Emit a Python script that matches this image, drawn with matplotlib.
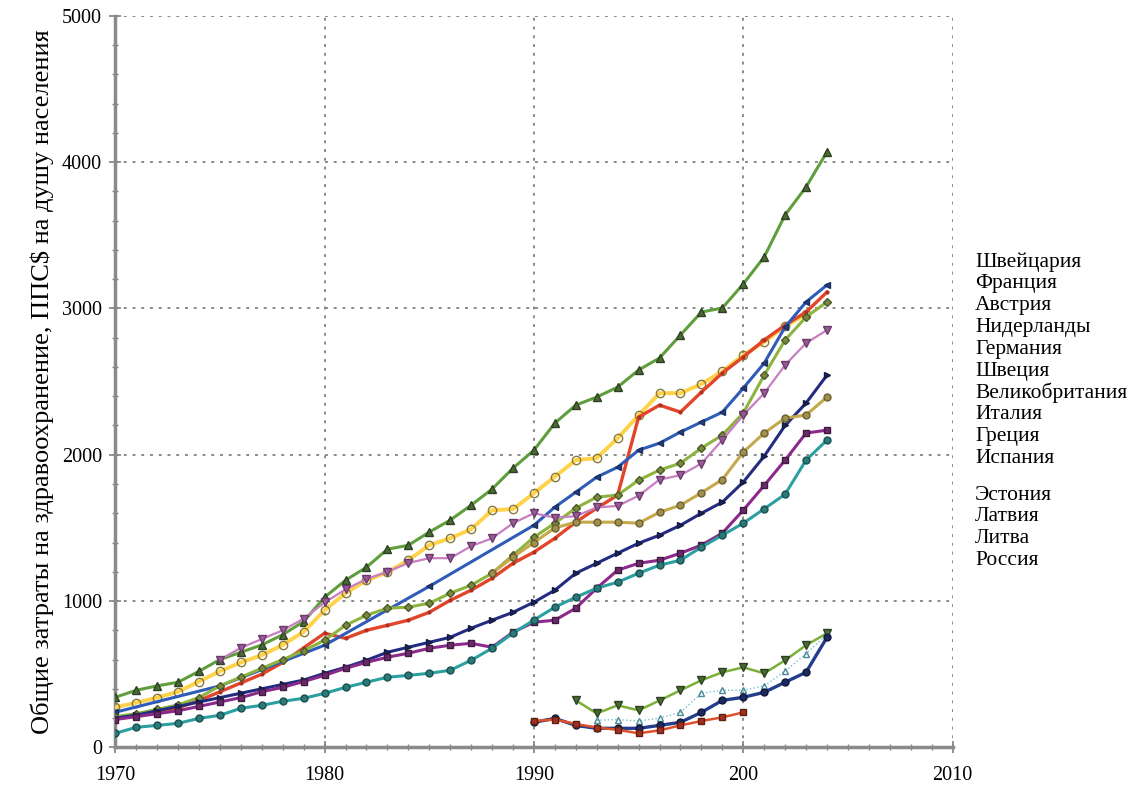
import matplotlib
matplotlib.use('Agg')
import numpy as np
import matplotlib.pyplot as plt
from matplotlib.ticker import MultipleLocator

plt.rcParams['font.family'] = ['Liberation Serif', 'DejaVu Serif']

# ---- data (PPP$ per capita) ----
yrs_w = list(range(1970, 2005))

swiss = [342, 390, 420, 445, 520, 600, 650, 700, 770, 860, 1026, 1142, 1231, 1354, 1381,
         1471, 1553, 1655, 1765, 1908, 2031, 2216, 2339, 2394, 2462, 2579, 2661, 2818, 2975,
         3003, 3167, 3352, 3639, 3830, 4070]
yellow_yrs = list(range(1970, 2004))
yellow = [274, 305, 340, 380, 450, 520, 580, 630, 700, 790, 937, 1053, 1142, 1197, 1279,
          1382, 1429, 1491, 1621, 1628, 1737, 1850, 1963, 1977, 2113, 2270, 2421, 2421, 2483,
          2570, 2680, 2770, 2880, 2960]
red = [198, 215, 240, 270, 320, 380, 440, 500, 580, 680, 780, 745, 800, 834, 869,
       923, 1005, 1074, 1156, 1258, 1334, 1429, 1539, 1635, 1724, 2257, 2339, 2291, 2428,
       2558, 2668, 2784, 2886, 2975, 3112]
blue_yrs = [1970, 1975, 1980, 1985] + list(range(1990, 2005))
blue = [240, 420, 698, 1100, 1518, 1642, 1744, 1847, 1915, 2031, 2079, 2155, 2223, 2291,
        2455, 2626, 2873, 3044, 3160]
greend = [210, 230, 260, 290, 340, 420, 480, 540, 600, 660, 732, 834, 903, 951, 958,
          985, 1053, 1108, 1190, 1313, 1436, 1532, 1635, 1710, 1724, 1826, 1895, 1942, 2045,
          2134, 2285, 2544, 2784, 2941, 3044]
pink_yrs = list(range(1975, 2005))
pink = [600, 680, 740, 800, 880, 990, 1080, 1150, 1200, 1260, 1293, 1293, 1375, 1429, 1532,
        1600, 1570, 1580, 1640, 1650, 1720, 1830, 1860, 1940, 2100, 2270, 2420, 2613, 2763, 2852]
navy = [200, 220, 250, 280, 310, 340, 370, 400, 430, 460, 506, 547, 595, 650, 684,
        718, 752, 814, 869, 923, 992, 1074, 1190, 1258, 1327, 1395, 1450, 1518, 1600,
        1676, 1813, 1990, 2200, 2353, 2544]
khaki_yrs = list(range(1988, 2005))
khaki = [1190, 1300, 1400, 1500, 1539, 1539, 1539, 1532, 1607, 1655, 1740, 1830, 2018,
         2148, 2250, 2271, 2394]
purple = [190, 210, 230, 250, 280, 310, 340, 380, 410, 450, 492, 540, 581, 616, 643,
          677, 698, 711, 684, 787, 855, 869, 951, 1088, 1211, 1258, 1279, 1327, 1382,
          1464, 1621, 1790, 1963, 2148, 2168]
teal = [96, 137, 150, 164, 198, 219, 267, 287, 315, 335, 369, 410, 445, 479, 492,
        506, 527, 595, 677, 780, 870, 958, 1026, 1088, 1129, 1190, 1245, 1279, 1368,
        1450, 1532, 1630, 1730, 1963, 2100]

est_yrs = list(range(1992, 2005))
est = [321, 232, 287, 253, 320, 390, 458, 513, 547, 506, 595, 698, 780]
lat_yrs = list(range(1993, 2005))
lat = [185, 190, 180, 200, 239, 369, 390, 390, 420, 520, 640, 770]
lit_yrs = list(range(1990, 2005))
lit = [171, 198, 150, 130, 130, 130, 150, 171, 239, 321, 342, 376, 445, 513, 752]
rus_yrs = list(range(1990, 2001))
rus = [180, 190, 160, 135, 120, 96, 116, 150, 180, 205, 239]

west_labels = ['Швейцария', 'Франция', 'Австрия', 'Нидерланды', 'Германия', 'Швеция',
               'Великобритания', 'Италия', 'Греция', 'Испания']
east_labels = ['Эстония', 'Латвия', 'Литва', 'Россия']

x_ticks = [1970, 1980, 1990, 2000, 2010]
x_tick_labels = ['1970', '1980', '1990', '200', '2010']
y_ticks = [0, 1000, 2000, 3000, 4000, 5000]
y_label = 'Общие затраты на здравоохранение, ППС$ на душу населения'

# ---- figure ----
fig = plt.figure(figsize=(11.3, 7.9), dpi=100)
ax = fig.add_axes([0.102, 0.054, 0.741, 0.926])

def line(x, y, color, marker, mfc, mec, ms=5, lw=2.2, ls='-'):
    ax.plot(x, y, color=color, lw=lw, ls=ls, marker=marker, ms=ms,
            mfc=mfc, mec=mec, mew=1.0, zorder=3)

line(yrs_w, swiss, '#5f9e3c', '^', '#4a6b34', '#2e4024', ms=6)
line(yellow_yrs, yellow, '#ffd24a', 'o', 'none', '#8a7a3a', ms=6, lw=2.8)
line(yrs_w, red, '#e2452a', '.', '#b03020', '#b03020', ms=4, lw=2.4)
line(blue_yrs, blue, '#2f5cb8', '<', '#233f80', '#1c2f60', ms=5)
line(yrs_w, greend, '#8cb43e', 'D', '#7a8a3c', '#4a5a2a', ms=4.5)
line(pink_yrs, pink, '#c77fc2', 'v', '#9a5a9a', '#6a3a6a', ms=6, lw=1.6)
line(yrs_w, navy, '#232c82', '>', '#1c2260', '#141a40', ms=4.5)
line(khaki_yrs, khaki, '#c4a84a', 'o', '#a09050', '#6a6030', ms=5)
line(yrs_w, purple, '#8c2a8c', 's', '#6a2a6a', '#401a40', ms=4.5)
line(yrs_w, teal, '#2ba0a0', 'o', '#2a7a7a', '#1a5050', ms=5)

line(est_yrs, est, '#7ab038', 'v', '#4a6a30', '#2e4024', ms=6, lw=1.8)
line(lat_yrs, lat, '#78c0cc', '^', 'none', '#4a8a9a', ms=5, lw=1.0, ls=':')
line(lit_yrs, lit, '#243c8c', 'o', '#1c2a60', '#10183a', ms=5, lw=2.4)
line(rus_yrs, rus, '#e0502c', 's', '#a03020', '#602010', ms=4, lw=1.8)

ax.set_xlim(1970, 2010)
ax.set_ylim(0, 5000)
ax.set_xticks(x_ticks)
ax.set_xticklabels(x_tick_labels)
ax.set_yticks(y_ticks)
ax.xaxis.set_minor_locator(MultipleLocator(1))
ax.yaxis.set_minor_locator(MultipleLocator(200))
ax.tick_params(which='major', direction='inout', length=9, width=1.2, color='#808080',
               labelsize=14.5, pad=5)
ax.tick_params(axis='x', which='major', pad=9)
ax.tick_params(which='minor', direction='inout', length=5, width=1.0, color='#808080')

ax.grid(True, which='major', ls=(0, (1.5, 3)), color='#8a8a8a', lw=1.4)
for s in ['top', 'right']:
    ax.spines[s].set_visible(False)
for s in ['left', 'bottom']:
    ax.spines[s].set_color('#8a8a8a')
    ax.spines[s].set_linewidth(2.5)
ax.set_axisbelow(True)

ax.set_ylabel(y_label, fontsize=19, labelpad=6)

# legend as plain text
y0 = 1 - 262 / 790
for i, lab in enumerate(west_labels):
    fig.text(975 / 1130, y0 - i * 21.8 / 790, lab, fontsize=15.5, va='center', ha='left')
y1 = 1 - 495 / 790
for i, lab in enumerate(east_labels):
    fig.text(975 / 1130, y1 - i * 21.8 / 790, lab, fontsize=15.5, va='center', ha='left')

fig.savefig('out.png', dpi=100)
